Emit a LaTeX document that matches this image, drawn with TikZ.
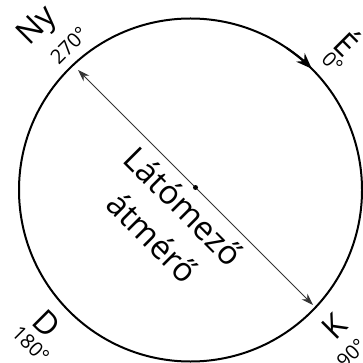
\documentclass[tikz,border=0pt]{standalone}
\usepackage{fontspec}
\setmainfont{Open Sans}
\usetikzlibrary{arrows.meta,calc}

\begin{document}
\begin{tikzpicture}[
    x=1pt,
    y=1pt,
    rim/.style={draw=black, line width=2pt},
    diam/.style={{Stealth[length=12pt,width=8pt]}-{Stealth[length=12pt,width=8pt]}, draw=black!80, line width=0.8pt},
    dot/.style={circle, fill=black, inner sep=0pt, minimum size=5pt},
    dir/.style={font=\fontsize{32}{32}\selectfont, inner sep=0pt},
    deg/.style={font=\fontsize{20}{20}\selectfont, inner sep=0pt},
    mid/.style={font=\fontsize{33}{44}\selectfont, align=center, inner sep=0pt}
  ]
    \clip (0,0) rectangle (363,-363);
    \coordinate (c) at (190.5,-190);
    \draw[rim] (c) circle[radius=171.5];
    \draw[rim, -{Stealth[length=16pt,width=12pt]}] ($(c)+(56:171.5)$) arc[start angle=56, end angle=45, radius=171.5];

    \coordinate (nw) at (78,-70);
    \coordinate (se) at (313,-305);
    \draw[diam] (nw) -- (se);
    \node[dot] (o) at ($(nw)!0.5!(se)$) {};

    \node[dir, rotate=45] (ny) at ($(c)+(133:223)$) {Ny};
    \node[deg, rotate=45] (nydeg) at ($(c)+(130:189)$) {270°};
    \node[dir, rotate=-45] (e) at ($(c)+(43:216)$) {É};
    \node[deg, rotate=-45] (edeg) at ($(c)+(42:191)$) {0°};
    \node[dir, rotate=-45] (d) at ($(c)+(-137:196)$) {D};
    \node[deg, rotate=-45] (ddeg) at ($(c)+(-136:222)$) {180°};
    \node[dir, rotate=45] (k) at ($(c)+(-43.5:198)$) {K};
    \node[deg, rotate=45] (kdeg) at ($(c)+(-45.4:229)$) {90°};

    \node[mid, rotate=-45] (txt) at (168.5,-221.5) {Látómező\\átmérő};
  \end{tikzpicture}
\end{document}
